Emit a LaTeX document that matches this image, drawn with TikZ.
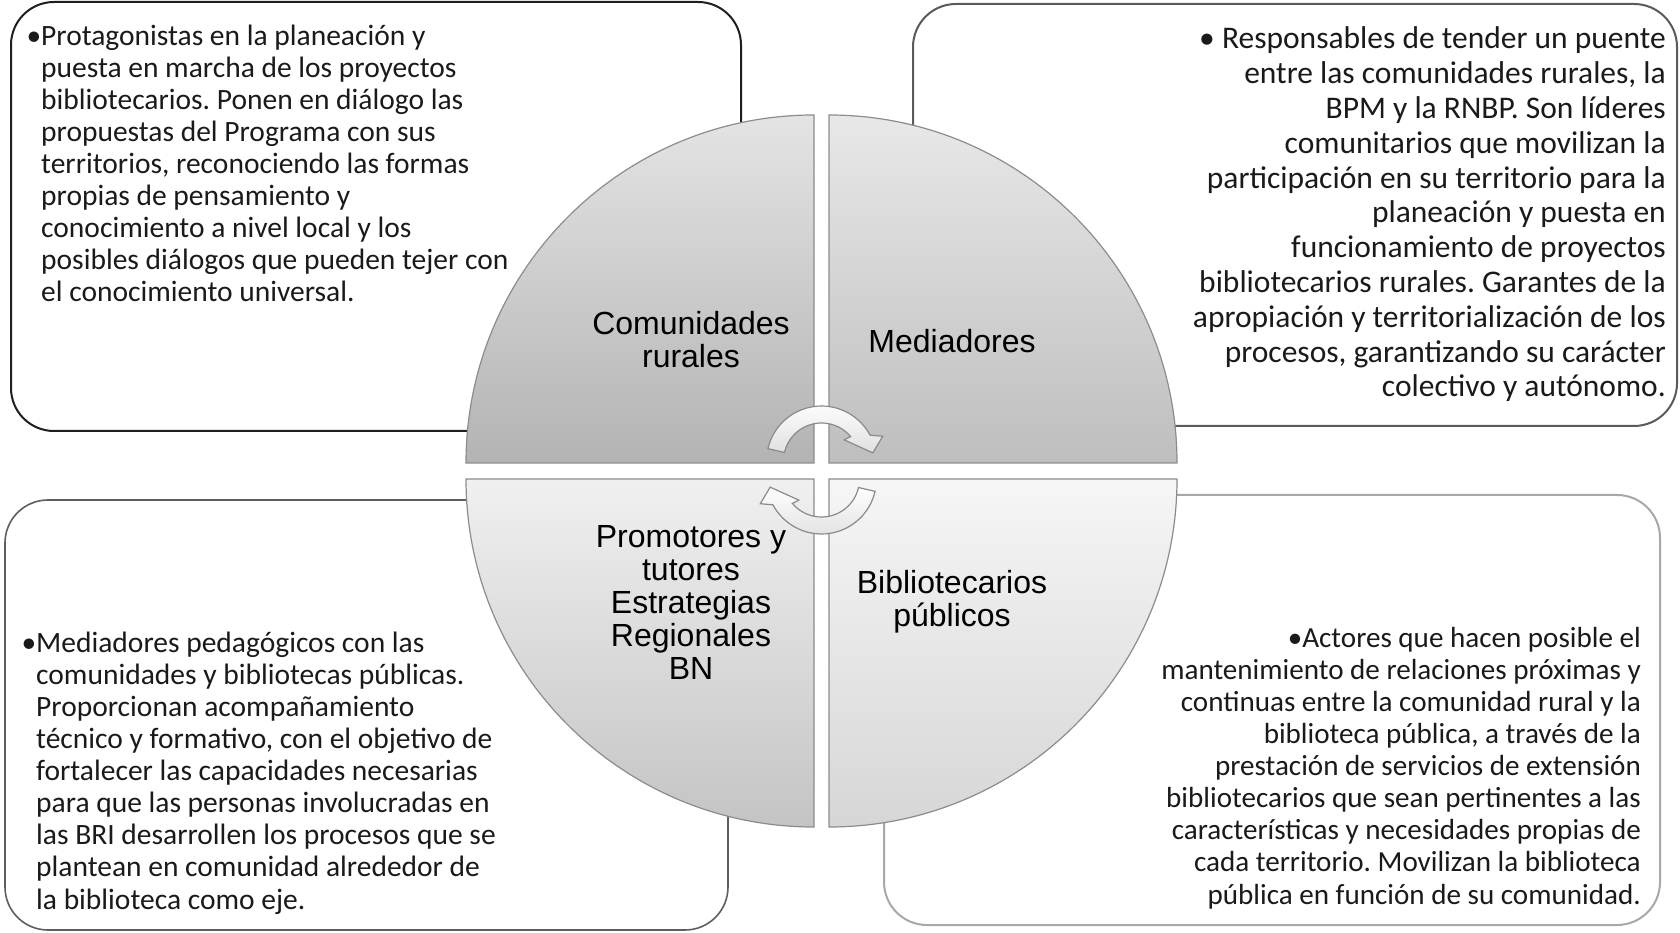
\documentclass[tikz,border=0pt]{standalone}
\usepackage{fontspec}
\setmainfont{Carlito}
\newfontfamily\labelfont{Liberation Sans}
\usepackage{xcolor}
\frenchspacing

\definecolor{textgray}{HTML}{1A1A1A}
\definecolor{tlframe}{HTML}{1F1F1F}
\definecolor{trframe}{HTML}{5A5A5A}
\definecolor{blframe}{HTML}{5E5E5E}
\definecolor{brframe}{HTML}{A8A8A8}
\definecolor{quadline}{HTML}{8C8C8C}
\definecolor{arrowline}{HTML}{8A8A8A}
\definecolor{arrowfill}{HTML}{E0E0E0}
\definecolor{tlTop}{HTML}{E4E4E4}
\definecolor{tlBot}{HTML}{B3B3B3}
\definecolor{trTop}{HTML}{E8E8E8}
\definecolor{trBot}{HTML}{BEBEBE}
\definecolor{blTop}{HTML}{F0F0F0}
\definecolor{blBot}{HTML}{C4C4C4}
\definecolor{brTop}{HTML}{F6F6F6}
\definecolor{brBot}{HTML}{D6D6D6}

\begin{document}
\begin{tikzpicture}[x=1pt,y=1pt,
    box/.style={rounded corners=43pt, line width=2pt},
    quad/.style={draw=quadline, line width=1.2pt},
    lbl/.style={font=\labelfont\fontsize{32}{33}\selectfont, align=center, inner sep=0pt},
    txt/.style={font=\fontsize{29.5}{32.1}\selectfont, text=textgray, inner sep=0pt},
    cyc/.style={draw=arrowline, line width=1.2pt, top color=white, bottom color=arrowfill}]
  \useasboundingbox (0,0) rectangle (1680,932);
  \fill[white] (0,0) rectangle (1680,932);

  % Boxes
  \draw[box, draw=tlframe] (11,501) rectangle (741,930);
  \draw[box, draw=trframe] (913,506) rectangle (1677,928);
  \draw[box, draw=blframe, line width=1.6pt] (5,2) rectangle (728,432);
  \draw[box, draw=brframe] (884,7) rectangle (1660,437);

  % Box texts (anchored at the last line)
  \node[txt, anchor=base west, align=left] (comtext) at (41,630)
    {\llap{•}Protagonistas en la planeación y\\
     puesta en marcha de los proyectos\\
     bibliotecarios. Ponen en diálogo las\\
     propuestas del Programa con sus\\
     territorios, reconociendo las formas\\
     propias de pensamiento y\\
     conocimiento a nivel local y los\\
     posibles diálogos que pueden tejer con\\
     el conocimiento universal.};
  \node[txt, font=\fontsize{31.5}{34.8}\selectfont, anchor=base east, align=right] (medtext) at (1666,535)
    {• Responsables de tender un puente\\
     entre las comunidades rurales, la\\
     BPM y la RNBP. Son líderes\\
     comunitarios que movilizan la\\
     participación en su territorio para la\\
     planeación y puesta en\\
     funcionamiento de proyectos\\
     bibliotecarios rurales. Garantes de la\\
     apropiación y territorialización de los\\
     procesos, garantizando su carácter\\
     colectivo y autónomo.};
  \node[txt, anchor=base west, align=left] (promtext) at (36,23)
    {\llap{•}Mediadores pedagógicos con las\\
     comunidades y bibliotecas públicas.\\
     Proporcionan acompañamiento\\
     técnico y formativo, con el objetivo de\\
     fortalecer las capacidades necesarias\\
     para que las personas involucradas en\\
     las BRI desarrollen los procesos que se\\
     plantean en comunidad alrededor de\\
     la biblioteca como eje.};
  \node[txt, font=\fontsize{29.1}{32.1}\selectfont, anchor=base east, align=right] (bibtext) at (1641,28)
    {•Actores que hacen posible el\\
     mantenimiento de relaciones próximas y\\
     continuas entre la comunidad rural y la\\
     biblioteca pública, a través de la\\
     prestación de servicios de extensión\\
     bibliotecarios que sean pertinentes a las\\
     características y necesidades propias de\\
     cada territorio. Movilizan la biblioteca\\
     pública en función de su comunidad.};

  % Quadrants
  \coordinate (tlc) at (814,469);
  \coordinate (trc) at (829,469);
  \coordinate (blc) at (814,453);
  \coordinate (brc) at (829,453);
  \draw[quad, top color=tlTop, bottom color=tlBot] (tlc) -- ++(-348,0) arc[start angle=180, end angle=90, radius=348] -- cycle;
  \draw[quad, top color=trTop, bottom color=trBot] (trc) -- ++(0,348) arc[start angle=90, end angle=0, radius=348] -- cycle;
  \draw[quad, top color=blTop, bottom color=blBot] (blc) -- ++(-348,0) arc[start angle=180, end angle=270, radius=348] -- cycle;
  \draw[quad, top color=brTop, bottom color=brBot] (brc) -- ++(348,0) arc[start angle=0, end angle=-90, radius=348] -- cycle;

  % Labels
  \node[lbl] (com) at (691,592) {Comunidades\\rurales};
  \node[lbl] (med) at (952,591) {Mediadores};
  \node[lbl] (prom) at (691,330) {Promotores y\\tutores\\Estrategias\\Regionales\\BN};
  \node[lbl] (bib) at (952,330) {Bibliotecarios\\públicos};

  % Cycle arrows
  \draw[cyc, shift={(821.5,471)}] (167:55) arc[start angle=167, end angle=28, radius=55]
    -- (22:66) -- (9:52) -- (43:31) -- (40:38) arc[start angle=40, end angle=167, radius=38] -- cycle;
  \draw[cyc, shift={(821.5,453)}, rotate=180] (167:55) arc[start angle=167, end angle=28, radius=55]
    -- (22:66) -- (9:52) -- (43:31) -- (40:38) arc[start angle=40, end angle=167, radius=38] -- cycle;
\end{tikzpicture}
\end{document}
